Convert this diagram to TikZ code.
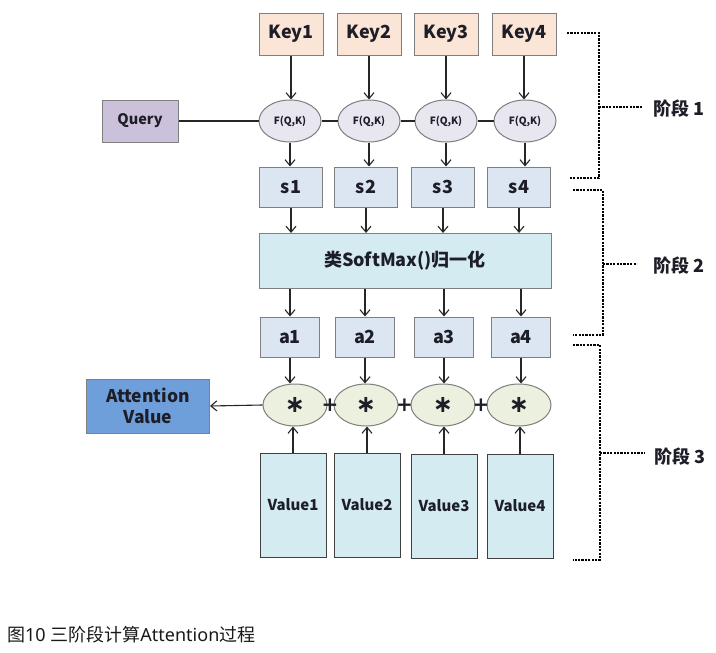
\documentclass[tikz,border=0pt]{standalone}
\usepackage{fontspec}
\setmainfont{Noto Sans CJK SC}
\newfontfamily\latinsans{Noto Sans}
\newfontfamily\djv{DejaVu Sans}
\usetikzlibrary{arrows.meta,shapes.geometric}
\definecolor{keyfill}{HTML}{FBE5D6}
\definecolor{queryfill}{HTML}{CCC1DA}
\definecolor{ffill}{HTML}{E8E7EF}
\definecolor{sfill}{HTML}{DCE6F2}
\definecolor{smfill}{HTML}{D3EBF1}
\definecolor{mfill}{HTML}{EBF1DE}
\definecolor{attfill}{HTML}{6F9FDA}
\definecolor{bord}{HTML}{7F7F7F}
\definecolor{txt}{HTML}{1E1E28}
\begin{document}
\begin{tikzpicture}[x=1pt,y=-1pt,
  box/.style={draw=bord, line width=1pt, inner sep=0pt, text=txt,
    font=\bfseries\fontsize{18}{18}\selectfont},
  keybox/.style={box, fill=keyfill, minimum width=64pt, minimum height=42pt},
  sbox/.style={box, fill=sfill, minimum width=63pt, minimum height=40pt},
  abox/.style={box, fill=sfill, minimum width=59pt, minimum height=40pt},
  fell/.style={ellipse, draw=bord, line width=1pt, fill=ffill, inner sep=0pt,
    minimum width=62pt, minimum height=42pt, text=txt,
    font=\bfseries\fontsize{10}{10}\selectfont},
  mell/.style={ellipse, draw=bord, line width=1pt, fill=mfill, inner sep=0pt,
    minimum width=64pt, minimum height=42pt, text=txt,
    font=\djv\bfseries\fontsize{24}{24}\selectfont},
  valbox/.style={box, draw=black!75, fill=smfill, minimum width=66pt, minimum height=104pt,
    font=\bfseries\fontsize{15}{15}\selectfont},
  plus/.style={inner sep=0pt, text=txt, font=\djv\bfseries\fontsize{20}{20}\selectfont},
  arr/.style={draw=black!85, line width=1.1pt, -{Straight Barb[length=6pt,width=10pt]}},
  ln/.style={draw=black!85, line width=1.1pt},
  brk/.style={draw=black, line width=1.3pt, dash pattern=on 2.2pt off 1.2pt},
  stage/.style={inner sep=0pt, text=txt, font=\bfseries\fontsize{18}{18}\selectfont}
]
\useasboundingbox[fill=white] (0,0) rectangle (716,653);

% Keys
\node[keybox] (k1) at (291,34) {Key1};
\node[keybox] (k2) at (369,34) {Key2};
\node[keybox] (k3) at (446,34) {Key3};
\node[keybox] (k4) at (524,34) {Key4};

% Query
\node[box, fill=queryfill, minimum width=76pt, minimum height=42pt,
  font=\bfseries\fontsize{14.5}{14.5}\selectfont] (q) at (140,121) {Query};

% F(Q,K)
\node[fell] (f1) at (290,121) {F(Q,K)};
\node[fell] (f2) at (369,121) {F(Q,K)};
\node[fell] (f3) at (446,121) {F(Q,K)};
\node[fell] (f4) at (525,121) {F(Q,K)};

% s
\node[sbox] (s1) at (291,187) {s1};
\node[sbox] (s2) at (366,187) {s2};
\node[sbox] (s3) at (443,187) {s3};
\node[sbox] (s4) at (519,187) {s4};

% softmax
\node[box, fill=smfill, minimum width=292pt, minimum height=55pt] (sm) at (405,261) {类SoftMax()归一化};

% a
\node[abox] (a1) at (290,337) {a1};
\node[abox] (a2) at (365,337) {a2};
\node[abox] (a3) at (444,337) {a3};
\node[abox] (a4) at (521,337) {a4};

% multiplication ellipses
\node[mell] (m1) at (295,405) {∗};
\node[mell] (m2) at (366,405) {∗};
\node[mell] (m3) at (443,405) {∗};
\node[mell] (m4) at (519,405) {∗};

\node[plus] (p1) at (330,405) {+};
\node[plus] (p2) at (404.5,405) {+};
\node[plus] (p3) at (481,405) {+};

% attention value
\node[box, fill=attfill, minimum width=123pt, minimum height=54pt, align=center,
  font=\bfseries\fontsize{17.5}{21}\selectfont] (att) at (148,406) {Attention\\Value};

% values
\node[valbox] (v1) at (293,505) {Value1};
\node[valbox] (v2) at (367,505) {Value2};
\node[valbox] (v3) at (444,506) {Value3};
\node[valbox] (v4) at (520,506) {Value4};

% connectors
\foreach \i in {1,2,3,4}{
  \draw[arr] (k\i.south) -- (k\i.south |- f\i.north);
  \draw[arr] (f\i.south) -- (f\i.south |- s\i.north);
  \draw[arr] (s\i.south) -- (s\i.south |- sm.north);
  \draw[arr] (a\i.north |- sm.south) -- (a\i.north);
  \draw[arr] (a\i.south) -- (a\i.south |- m\i.north);
  \draw[arr] (v\i.north) -- (v\i.north |- m\i.south);
}
\draw[ln] (q.east) -- (f1.west);
\draw[ln] (f1.east) -- (f2.west);
\draw[ln] (f2.east) -- (f3.west);
\draw[ln] (f3.east) -- (f4.west);
\draw[arr] (m1.west) -- (att.east);

% stage brackets
\draw[brk] (567,33) -- (599,33) -- (599,178) -- (569,178);
\draw[brk] (599,107) -- (642,107);
\node[stage] (st1) at (679,109) {阶段 1};

\draw[brk] (573,190) -- (603,190) -- (603,335) -- (573,335);
\draw[brk] (603,264) -- (637,264);
\node[stage] (st2) at (679,266) {阶段 2};

\draw[brk] (573,345) -- (600,345) -- (600,560) -- (573,560);
\draw[brk] (600,453) -- (645,453);
\node[stage] (st3) at (680,457) {阶段 3};

% caption
\node[anchor=west, inner sep=0pt, text=black!90, font=\fontsize{18}{18}\selectfont] (cap) at (7,635) {图{\latinsans 10 }三阶段计算{\latinsans Attention}过程};
\end{tikzpicture}
\end{document}
